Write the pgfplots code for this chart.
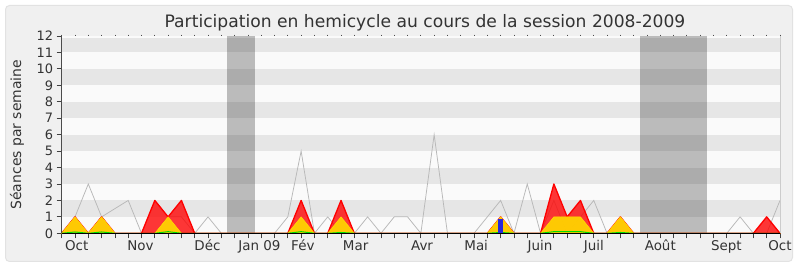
\documentclass[border=0pt]{standalone}
\usepackage{pgfplots}
\pgfplotsset{compat=1.18}
\usepackage{pgfplotstable}
\usepackage{fontspec}
\setmainfont{DejaVu Sans}
\definecolor{panelbg}{HTML}{F0F0F0}
\definecolor{panelborder}{HTML}{E2E2E2}
\definecolor{stripelight}{HTML}{FAFAFA}
\definecolor{stripedark}{HTML}{E6E6E6}
\definecolor{grayline}{HTML}{B8B8B8}
\definecolor{redarea}{HTML}{FF0000}
\definecolor{yelarea}{HTML}{FFD500}
\definecolor{yeledge}{HTML}{FFE000}
\definecolor{greenline}{HTML}{00DD00}
\definecolor{bluebar}{HTML}{2828DC}
\definecolor{baseline}{HTML}{701818}
\definecolor{txt}{HTML}{333333}

\pgfplotstableread{
w g r y gr
0 0 0 0 0
1 1 1 1 0.08
2 3 0 0 0
3 1 1 1 0.08
4 1.5 0 0 0
5 2 0 0 0
6 0 0 0 0
7 0 2 0 0
8 1 1 1 0.1
9 1 2 0 0
10 0 0 0 0
11 1 0 0 0
12 0 0 0 0
13 0 0 0 0
14 0 0 0 0
15 0 0 0 0
16 0 0 0 0
17 1 0 0 0
18 5 2 1 0.1
19 0 0 0 0
20 1 0 0 0
21 0 2 1 0.05
22 0 0 0 0
23 1 0 0 0
24 0 0 0 0
25 1 0 0 0
26 1 0 0 0
27 0 0 0 0
28 6 0 0 0
29 0 0 0 0
30 0 0 0 0
31 0 0 0 0
32 1 0 0 0
33 2 1 1 0.05
34 0 0 0 0
35 3 0 0 0
36 0 0 0 0
37 2 3 1 0.1
38 0 1 1 0.1
39 1 2 1 0.1
40 2 0 0 0
41 0 0 0 0
42 0 1 1 0.05
43 0 0 0 0
44 0 0 0 0
45 0 0 0 0
46 0 0 0 0
47 0 0 0 0
48 0 0 0 0
49 0 0 0 0
50 0 0 0 0
51 1 0 0 0
52 0 0 0 0
53 0 1 0 0
54 2 0 0 0
}\data

\begin{document}
\begin{tikzpicture}
\useasboundingbox (0,0) rectangle (800bp,267bp);
\fill[white] (0,0) rectangle (800bp,267bp);
\filldraw[fill=panelbg, draw=panelborder, line width=1bp, rounded corners=4bp] (5.5bp,5.5bp) rectangle (792.5bp,261.5bp);
\begin{axis}[
  at={(61.7bp,33.7bp)}, anchor=south west,
  scale only axis, width=718.3bp, height=197.3bp,
  xmin=0, xmax=54, ymin=0, ymax=12,
  axis line style={draw=none},
  clip=false,
  xtick={0,...,54}, xticklabels={},
  ytick={0,...,12},
  xtick pos=left, ytick pos=left,
  tick align=outside, major tick length=5bp,
  tick style={color=black!75, line width=0.8bp},
  /pgf/number format/assume math mode=true,
  tick label style={font=\fontsize{13}{13}\selectfont, text=txt},
  extra x ticks={1.13,5.92,10.96,14.87,18.13,22.1,27.09,31.16,35.96,40,45,49.97,54},
  extra x tick labels={Oct,Nov,Déc,Jan 09,Fév,Mar,Avr,Mai,Juin,Juil,Août,Sept,Oct},
  extra x tick style={major tick length=0pt, tick style={draw=none},
    tick label style={font=\fontsize{13.5}{13.5}\selectfont, text=txt, anchor=base, yshift=-17bp}},
  ylabel={Séances par semaine},
  every axis y label/.style={at={(axis description cs:-0.0622,0.5)}, rotate=90, anchor=center, font=\fontsize{14}{14}\selectfont, text=txt},
  title={Participation en hemicycle au cours de la session 2008-2009},
  every axis title/.style={at={(axis description cs:0.5058,1)}, anchor=base, yshift=8.7bp, font=\fontsize{17.2}{17.2}\selectfont, text=txt},
]
% background stripes
\addplot[draw=none, fill=stripelight] coordinates {(0,0) (0,12) (54,12) (54,0)} -- cycle;
\addplot[draw=none, fill=stripedark] coordinates {(0,1) (0,2) (54,2) (54,1)} -- cycle;
\addplot[draw=none, fill=stripedark] coordinates {(0,3) (0,4) (54,4) (54,3)} -- cycle;
\addplot[draw=none, fill=stripedark] coordinates {(0,5) (0,6) (54,6) (54,5)} -- cycle;
\addplot[draw=none, fill=stripedark] coordinates {(0,7) (0,8) (54,8) (54,7)} -- cycle;
\addplot[draw=none, fill=stripedark] coordinates {(0,9) (0,10) (54,10) (54,9)} -- cycle;
\addplot[draw=none, fill=stripedark] coordinates {(0,11) (0,11.9) (54,11.9) (54,11)} -- cycle;
% holidays
\addplot[draw=none, fill=black, fill opacity=0.25] coordinates {(12.45,0) (12.45,12) (14.5,12) (14.5,0)} -- cycle;
\addplot[draw=none, fill=black, fill opacity=0.25] coordinates {(43.5,0) (43.5,12) (48.5,12) (48.5,0)} -- cycle;
% series
\addplot[draw=grayline, line width=0.75bp, mark=none] table[x=w, y=g] {\data};
\addplot[draw=redarea, line width=1.3bp, line join=round, fill=redarea, fill opacity=0.78, mark=none] table[x=w, y=r] {\data} \closedcycle;
\addplot[draw=yeledge, line width=0.5bp, line join=round, fill=yelarea, fill opacity=0.93, mark=none] table[x=w, y=y] {\data} \closedcycle;
\addplot[draw=greenline, line width=1bp, mark=none] table[x=w, y=gr] {\data};
\addplot[ybar, bar width=5bp, fill=bluebar, draw=none] coordinates {(33,0.85)};
% axis lines
\draw[baseline, line width=1.4bp] (rel axis cs:0,0) -- (rel axis cs:1,0);
\draw[black!70, line width=0.9bp] (rel axis cs:0,0) -- (rel axis cs:0,1);
\draw[black!20, line width=0.8bp] (rel axis cs:1,0) -- (rel axis cs:1,1);
\end{axis}
\begin{axis}[
  at={(61.7bp,33.7bp)}, anchor=south west,
  scale only axis, width=718.3bp, height=197.3bp,
  xmin=0, xmax=54, ymin=0, ymax=12,
  axis line style={draw=none},
  xtick={0,...,54}, xticklabels={}, ytick=\empty,
  xtick pos=right, tick align=outside, major tick length=1.3bp,
  tick style={color=black!70, line width=0.8bp},
]
\end{axis}
\end{tikzpicture}
\end{document}
